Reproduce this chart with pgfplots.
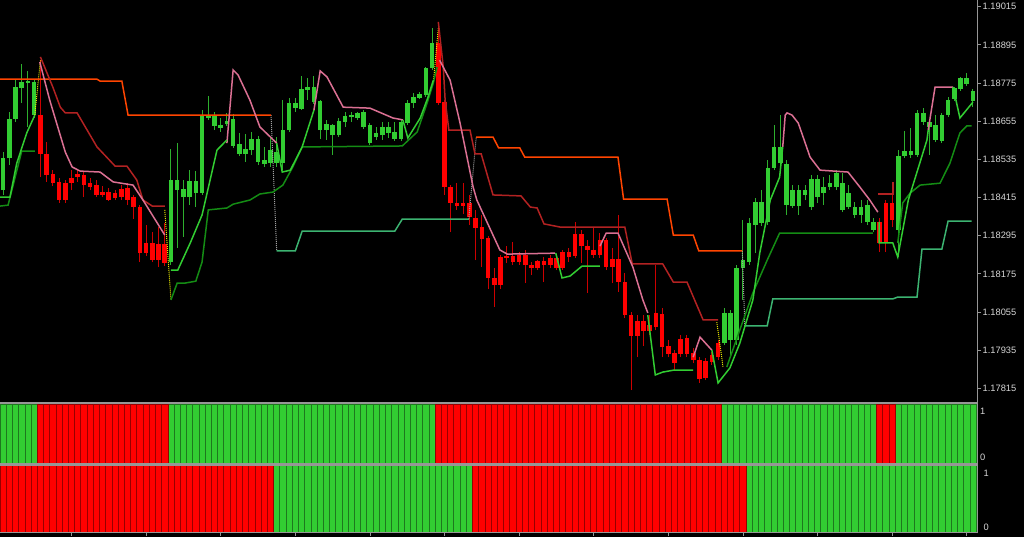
\documentclass[border=0pt]{standalone}
\usepackage{pgfplots}
\pgfplotsset{compat=1.18}
\usepackage{pgfplotstable}
\usepackage{fontspec}
\setmainfont{Liberation Sans}
\definecolor{cgreen}{RGB}{50,205,50}
\definecolor{cred}{RGB}{255,0,0}
\definecolor{gwick}{RGB}{45,175,45}
\definecolor{rwick}{RGB}{205,0,0}
\definecolor{lorange}{RGB}{255,69,0}
\definecolor{ldred}{RGB}{178,34,34}
\definecolor{lpink}{RGB}{219,112,147}
\definecolor{llgreen}{RGB}{50,205,50}
\definecolor{ldgreen}{RGB}{20,140,20}
\definecolor{lsea}{RGB}{60,179,113}
\definecolor{axgray}{RGB}{150,150,150}
\definecolor{lbl}{RGB}{215,215,215}
\definecolor{bgreen}{RGB}{50,205,50}
\definecolor{bgreendark}{RGB}{30,120,30}
\definecolor{bred}{RGB}{255,0,0}
\definecolor{breddark}{RGB}{150,0,0}
\definecolor{dotgray}{RGB}{160,160,160}
\definecolor{dotyel}{RGB}{230,230,0}
\newcommand{\lblfont}{\fontsize{9.3}{10}\selectfont}

\pgfplotstableread{
i O H L C
0 1.18438 1.18558 1.18423 1.18539
1 1.18539 1.18684 1.18517 1.18662
2 1.18662 1.18784 1.18652 1.18762
3 1.18759 1.18835 1.18712 1.18778
4 1.18775 1.18813 1.18637 1.18781
5 1.18674 1.18784 1.18665 1.18778
27 1.18212 1.18567 1.18203 1.18470
28 1.18438 1.18586 1.18256 1.18470
29 1.18416 1.18470 1.18291 1.18442
30 1.18416 1.18501 1.18391 1.18467
31 1.18429 1.18498 1.18385 1.18467
32 1.18429 1.18690 1.18423 1.18674
33 1.18665 1.18734 1.18659 1.18674
34 1.18640 1.18684 1.18627 1.18674
35 1.18633 1.18665 1.18621 1.18643
36 1.18646 1.18681 1.18640 1.18655
37 1.18577 1.18677 1.18571 1.18662
38 1.18552 1.18618 1.18545 1.18583
39 1.18552 1.18615 1.18527 1.18567
40 1.18564 1.18621 1.18549 1.18599
41 1.18527 1.18608 1.18517 1.18599
42 1.18520 1.18574 1.18511 1.18533
43 1.18523 1.18605 1.18511 1.18564
44 1.18523 1.18605 1.18511 1.18558
45 1.18523 1.18721 1.18501 1.18627
46 1.18627 1.18728 1.18621 1.18712
47 1.18696 1.18728 1.18684 1.18712
48 1.18693 1.18797 1.18690 1.18756
49 1.18753 1.18791 1.18721 1.18762
50 1.18715 1.18797 1.18709 1.18762
51 1.18627 1.18721 1.18599 1.18718
52 1.18627 1.18659 1.18596 1.18646
53 1.18611 1.18646 1.18549 1.18643
54 1.18611 1.18665 1.18605 1.18655
55 1.18652 1.18684 1.18637 1.18671
56 1.18668 1.18684 1.18652 1.18674
57 1.18665 1.18684 1.18659 1.18681
58 1.18637 1.18690 1.18630 1.18684
59 1.18586 1.18649 1.18580 1.18643
60 1.18605 1.18637 1.18596 1.18618
61 1.18611 1.18652 1.18596 1.18637
62 1.18618 1.18652 1.18602 1.18637
63 1.18599 1.18652 1.18593 1.18621
64 1.18599 1.18659 1.18593 1.18652
65 1.18649 1.18721 1.18643 1.18712
66 1.18712 1.18743 1.18696 1.18731
67 1.18728 1.18747 1.18725 1.18740
68 1.18737 1.18825 1.18731 1.18822
69 1.18822 1.18948 1.18816 1.18901
116 1.17957 1.18067 1.17951 1.18052
117 1.17967 1.18061 1.17920 1.18052
118 1.17967 1.18203 1.17951 1.18193
119 1.18193 1.18344 1.18093 1.18218
120 1.18212 1.18350 1.18203 1.18335
121 1.18328 1.18413 1.18240 1.18401
122 1.18335 1.18438 1.18325 1.18401
123 1.18338 1.18533 1.18328 1.18508
124 1.18508 1.18643 1.18501 1.18574
125 1.18523 1.18674 1.18517 1.18574
126 1.18391 1.18533 1.18360 1.18520
127 1.18388 1.18454 1.18382 1.18438
128 1.18388 1.18454 1.18360 1.18438
129 1.18423 1.18454 1.18407 1.18438
130 1.18385 1.18486 1.18376 1.18473
131 1.18416 1.18486 1.18398 1.18473
132 1.18429 1.18479 1.18391 1.18448
133 1.18448 1.18486 1.18438 1.18460
134 1.18448 1.18501 1.18438 1.18492
135 1.18376 1.18492 1.18369 1.18460
136 1.18385 1.18454 1.18379 1.18429
137 1.18360 1.18401 1.18350 1.18385
138 1.18360 1.18407 1.18335 1.18385
139 1.18338 1.18407 1.18328 1.18391
140 1.18313 1.18350 1.18306 1.18338
144 1.18313 1.18564 1.18228 1.18545
145 1.18545 1.18624 1.18539 1.18561
146 1.18549 1.18633 1.18539 1.18561
147 1.18549 1.18690 1.18542 1.18681
148 1.18652 1.18696 1.18643 1.18681
149 1.18637 1.18659 1.18549 1.18652
150 1.18596 1.18674 1.18589 1.18643
151 1.18593 1.18681 1.18586 1.18674
152 1.18674 1.18731 1.18668 1.18721
153 1.18725 1.18762 1.18718 1.18759
154 1.18756 1.18794 1.18750 1.18791
155 1.18772 1.18806 1.18765 1.18791
156 1.18718 1.18756 1.18699 1.18750
}\greenc

\pgfplotstableread{
i O H L C
6 1.18674 1.18847 1.18479 1.18552
7 1.18552 1.18589 1.18464 1.18486
8 1.18489 1.18501 1.18451 1.18460
9 1.18464 1.18476 1.18398 1.18407
10 1.18460 1.18470 1.18398 1.18407
11 1.18476 1.18501 1.18438 1.18460
12 1.18489 1.18501 1.18464 1.18479
13 1.18486 1.18495 1.18416 1.18454
14 1.18460 1.18476 1.18438 1.18448
15 1.18454 1.18470 1.18416 1.18423
16 1.18432 1.18451 1.18416 1.18423
17 1.18432 1.18445 1.18404 1.18407
18 1.18429 1.18438 1.18407 1.18413
19 1.18442 1.18454 1.18407 1.18416
20 1.18445 1.18460 1.18391 1.18407
21 1.18416 1.18423 1.18347 1.18385
22 1.18385 1.18391 1.18212 1.18240
23 1.18272 1.18328 1.18231 1.18240
24 1.18272 1.18306 1.18212 1.18218
25 1.18269 1.18322 1.18196 1.18218
26 1.18269 1.18335 1.18199 1.18209
70 1.18901 1.18967 1.18706 1.18712
71 1.18715 1.18721 1.18423 1.18448
72 1.18448 1.18454 1.18306 1.18398
73 1.18398 1.18460 1.18376 1.18388
74 1.18398 1.18460 1.18363 1.18388
75 1.18398 1.18423 1.18328 1.18354
76 1.18350 1.18376 1.18218 1.18319
77 1.18322 1.18360 1.18196 1.18284
78 1.18288 1.18294 1.18127 1.18162
79 1.18162 1.18193 1.18071 1.18140
80 1.18228 1.18234 1.18127 1.18140
81 1.18231 1.18262 1.18209 1.18225
82 1.18231 1.18275 1.18203 1.18212
83 1.18234 1.18243 1.18203 1.18212
84 1.18234 1.18250 1.18146 1.18203
85 1.18203 1.18212 1.18171 1.18193
86 1.18215 1.18218 1.18187 1.18193
87 1.18215 1.18228 1.18149 1.18203
88 1.18225 1.18234 1.18193 1.18203
89 1.18225 1.18234 1.18187 1.18193
90 1.18243 1.18250 1.18187 1.18193
91 1.18243 1.18256 1.18212 1.18228
92 1.18300 1.18338 1.18225 1.18231
93 1.18300 1.18313 1.18209 1.18262
94 1.18262 1.18281 1.18115 1.18250
95 1.18250 1.18319 1.18225 1.18234
96 1.18281 1.18303 1.18225 1.18234
97 1.18281 1.18288 1.18187 1.18196
98 1.18221 1.18256 1.18146 1.18196
99 1.18221 1.18360 1.18118 1.18149
100 1.18149 1.18177 1.18036 1.18045
101 1.18045 1.18055 1.17809 1.17979
102 1.18026 1.18045 1.17913 1.17979
103 1.18026 1.18045 1.17948 1.17995
104 1.18014 1.18045 1.17982 1.17995
105 1.18052 1.18203 1.17998 1.18008
106 1.18049 1.18067 1.17913 1.17945
107 1.17948 1.17967 1.17913 1.17923
108 1.17926 1.17935 1.17872 1.17894
109 1.17970 1.17982 1.17913 1.17923
110 1.17973 1.17982 1.17913 1.17923
111 1.17926 1.17942 1.17894 1.17904
112 1.17904 1.17913 1.17832 1.17844
113 1.17901 1.17910 1.17841 1.17847
114 1.17920 1.17929 1.17888 1.17898
115 1.17957 1.17967 1.17904 1.17913
141 1.18338 1.18350 1.18243 1.18272
142 1.18398 1.18407 1.18243 1.18272
143 1.18398 1.18460 1.18322 1.18344
}\redc

\pgfplotstableread[row sep=\\]{
i v s2 s3\\
0 1 1 0\\1 1 1 0\\2 1 1 0\\3 1 1 0\\4 1 1 0\\5 1 1 0\\
6 1 0 0\\7 1 0 0\\8 1 0 0\\9 1 0 0\\10 1 0 0\\11 1 0 0\\12 1 0 0\\13 1 0 0\\14 1 0 0\\15 1 0 0\\16 1 0 0\\
17 1 0 0\\18 1 0 0\\19 1 0 0\\20 1 0 0\\21 1 0 0\\22 1 0 0\\23 1 0 0\\24 1 0 0\\25 1 0 0\\26 1 0 0\\
27 1 1 0\\28 1 1 0\\29 1 1 0\\30 1 1 0\\31 1 1 0\\32 1 1 0\\33 1 1 0\\34 1 1 0\\35 1 1 0\\36 1 1 0\\
37 1 1 0\\38 1 1 0\\39 1 1 0\\40 1 1 0\\41 1 1 0\\42 1 1 0\\43 1 1 0\\
44 1 1 1\\45 1 1 1\\46 1 1 1\\47 1 1 1\\48 1 1 1\\49 1 1 1\\50 1 1 1\\51 1 1 1\\52 1 1 1\\53 1 1 1\\
54 1 1 1\\55 1 1 1\\56 1 1 1\\57 1 1 1\\58 1 1 1\\59 1 1 1\\60 1 1 1\\61 1 1 1\\62 1 1 1\\63 1 1 1\\
64 1 1 1\\65 1 1 1\\66 1 1 1\\67 1 1 1\\68 1 1 1\\69 1 1 1\\
70 1 0 1\\71 1 0 1\\72 1 0 1\\73 1 0 1\\74 1 0 1\\75 1 0 1\\
76 1 0 0\\77 1 0 0\\78 1 0 0\\79 1 0 0\\80 1 0 0\\81 1 0 0\\82 1 0 0\\83 1 0 0\\84 1 0 0\\85 1 0 0\\
86 1 0 0\\87 1 0 0\\88 1 0 0\\89 1 0 0\\90 1 0 0\\91 1 0 0\\92 1 0 0\\93 1 0 0\\94 1 0 0\\95 1 0 0\\
96 1 0 0\\97 1 0 0\\98 1 0 0\\99 1 0 0\\100 1 0 0\\101 1 0 0\\102 1 0 0\\103 1 0 0\\104 1 0 0\\105 1 0 0\\
106 1 0 0\\107 1 0 0\\108 1 0 0\\109 1 0 0\\110 1 0 0\\111 1 0 0\\112 1 0 0\\113 1 0 0\\114 1 0 0\\115 1 0 0\\
116 1 1 0\\117 1 1 0\\118 1 1 0\\119 1 1 0\\
120 1 1 1\\121 1 1 1\\122 1 1 1\\123 1 1 1\\124 1 1 1\\125 1 1 1\\126 1 1 1\\127 1 1 1\\128 1 1 1\\129 1 1 1\\
130 1 1 1\\131 1 1 1\\132 1 1 1\\133 1 1 1\\134 1 1 1\\135 1 1 1\\136 1 1 1\\137 1 1 1\\138 1 1 1\\139 1 1 1\\140 1 1 1\\
141 1 0 1\\142 1 0 1\\143 1 0 1\\
144 1 1 1\\145 1 1 1\\146 1 1 1\\147 1 1 1\\148 1 1 1\\149 1 1 1\\150 1 1 1\\151 1 1 1\\152 1 1 1\\153 1 1 1\\
154 1 1 1\\155 1 1 1\\156 1 1 1\\
}\sig

\pgfplotsset{
  panelstyle/.style={scale only axis, width=977pt, xmin=-0.5, xmax=156.65, ymin=0, ymax=1,
    axis line style={draw=none}, ytick pos=right, yticklabel pos=right,
    yticklabels={0,1}, ytick style={draw=none},
    yticklabel style={anchor=west, inner sep=0pt, text=lbl, font=\lblfont},
    clip=true},
  sigbar/.style={ybar, bar width=1, bar shift=0pt, line width=0.7pt},
}

\begin{document}
\begin{tikzpicture}[x=1pt,y=1pt]
\fill[black] (0,0) rectangle (1024,537);

% ---------------- main price panel ----------------
\begin{axis}[
  at={(0pt,135pt)}, anchor=south west, scale only axis,
  width=977pt, height=402pt,
  xmin=-0.5, xmax=156.65, ymin=1.17772, ymax=1.19036,
  axis line style={draw=none}, xtick=\empty, scaled y ticks=false,
  ytick={1.17815,1.17935,1.18055,1.18175,1.18295,1.18415,1.18535,1.18655,1.18775,1.18895,1.19015},
  yticklabels={1.17815,1.17935,1.18055,1.18175,1.18295,1.18415,1.18535,1.18655,1.18775,1.18895,1.19015},
  ytick pos=right, yticklabel pos=right, tick align=outside, major tick length=4pt,
  ytick style={draw=axgray, line width=0.8pt},
  yticklabel style={anchor=west, inner sep=0pt, xshift=1.5pt, text=lbl, font=\lblfont},
]
% candles
\addplot[gwick, line width=1pt, quiver={u=0, v=\thisrow{H}-\thisrow{L}}] table[x=i, y=L] {\greenc};
\addplot[cgreen, line width=4.6pt, line cap=butt, quiver={u=0, v=\thisrow{C}-\thisrow{O}}] table[x=i, y=O] {\greenc};
\addplot[rwick, line width=1pt, quiver={u=0, v=\thisrow{H}-\thisrow{L}}] table[x=i, y=L] {\redc};
\addplot[cred, line width=4.6pt, line cap=butt, quiver={u=0, v=\thisrow{C}-\thisrow{O}}] table[x=i, y=O] {\redc};

% transition dotted lines
\addplot[dotgray, line width=1pt, densely dotted] coordinates {(43.1,1.18674)(44.0,1.18247)};
\addplot[dotgray, line width=1pt, densely dotted] coordinates {(74.9,1.18347)(76.1,1.18605)};
\addplot[dotgray, line width=1pt, densely dotted] coordinates {(118.9,1.18247)(119.3,1.18011)};
\addplot[dotyel, line width=1pt, densely dotted] coordinates {(5.1,1.18674)(6.0,1.18847)};
\addplot[dotyel, line width=1pt, densely dotted] coordinates {(26.0,1.18376)(27.0,1.18093)};
\addplot[dotyel, line width=1pt, densely dotted] coordinates {(69.2,1.18775)(70.0,1.18948)};
\addplot[dotyel, line width=1pt, densely dotted] coordinates {(114.8,1.18023)(115.8,1.17882)};

% slow stop (orange / sea green)
\addplot[lorange, line width=1.5pt] coordinates {(-0.5,1.18787)(15.1,1.18787)(15.6,1.18781)(19.1,1.18781)(20.1,1.18674)(43.1,1.18674)};
\addplot[lorange, line width=1.5pt] coordinates {(76.1,1.18605)(78.8,1.18605)(79.7,1.18571)(83.1,1.18571)(83.9,1.18542)(98.9,1.18542)(99.8,1.18410)(106.8,1.18410)(107.8,1.18297)(111.0,1.18297)(111.9,1.18247)(118.9,1.18247)};
\addplot[lsea, line width=1.5pt] coordinates {(44.0,1.18247)(47.0,1.18247)(48.1,1.18309)(63.0,1.18309)(64.2,1.18347)(74.9,1.18347)};
\addplot[lsea, line width=1.5pt] coordinates {(119.3,1.18011)(122.9,1.18011)(123.8,1.18096)(143.1,1.18096)(143.9,1.18102)(147.0,1.18102)(147.8,1.18253)(151.0,1.18253)(152.0,1.18341)(155.8,1.18341)};

% medium stop (dark red / dark green)
\addplot[ldred, line width=1.5pt] coordinates {(6.0,1.18857)(8.0,1.18762)(9.2,1.18699)(10.0,1.18681)(11.9,1.18681)(15.1,1.18574)(18.0,1.18514)(19.9,1.18514)(21.5,1.18470)(22.5,1.18407)(24.0,1.18388)(26.0,1.18388)};
\addplot[ldred, line width=1.5pt] coordinates {(70.0,1.18967)(70.8,1.18825)(71.1,1.18721)(71.7,1.18627)(75.1,1.18627)(75.9,1.18552)(76.9,1.18552)(78.8,1.18423)(83.3,1.18420)(84.8,1.18385)(85.9,1.18382)(87.0,1.18332)(89.6,1.18322)(100.0,1.18322)(101.2,1.18206)(106.1,1.18206)(107.8,1.18149)(110.0,1.18149)(112.6,1.18030)(115.0,1.18030)};
\addplot[ldred, line width=1.5pt] coordinates {(140.7,1.18426)(143.1,1.18426)(143.1,1.18464)};
\addplot[ldgreen, line width=1.5pt] coordinates {(-0.5,1.18388)(0.8,1.18391)(3.0,1.18561)(5.1,1.18561)};
\addplot[ldgreen, line width=1.5pt] coordinates {(27.0,1.18093)(28.0,1.18146)(29.3,1.18146)(31.0,1.18152)(32.0,1.18212)(33.0,1.18376)(36.0,1.18382)(37.0,1.18394)(39.7,1.18407)(41.3,1.18426)(43.4,1.18432)(45.0,1.18454)(46.6,1.18511)(48.1,1.18574)(64.2,1.18577)(66.6,1.18621)(68.2,1.18712)(69.2,1.18775)(69.8,1.18825)};
\addplot[ldgreen, line width=1.5pt] coordinates {(116.4,1.17882)(120.6,1.18115)(122.9,1.18218)(124.9,1.18303)(139.9,1.18303)};
\addplot[ldgreen, line width=1.5pt] coordinates {(143.9,1.18272)(144.7,1.18398)(145.9,1.18429)(147.5,1.18454)(150.7,1.18460)(152.3,1.18523)(153.9,1.18618)(155.0,1.18640)(155.8,1.18640)};

% fast stop (pink / light green)
\addplot[lpink, line width=1.5pt] coordinates {(5.9,1.18841)(7.5,1.18721)(10.0,1.18558)(11.1,1.18511)(12.4,1.18498)(15.6,1.18495)(17.7,1.18464)(20.9,1.18454)(22.5,1.18407)(26.0,1.18297)};
\addplot[lpink, line width=1.5pt] coordinates {(36.0,1.18586)(37.0,1.18816)(37.8,1.18800)(39.7,1.18721)(41.3,1.18637)(44.0,1.18586)};
\addplot[lpink, line width=1.5pt] coordinates {(50.0,1.18690)(51.0,1.18813)(52.1,1.18794)(54.7,1.18699)(59.0,1.18696)(62.7,1.18665)(64.3,1.18659)};
\addplot[lpink, line width=1.5pt] coordinates {(70.2,1.18847)(71.9,1.18784)(73.5,1.18649)(75.6,1.18448)(76.2,1.18407)(79.9,1.18250)(81.1,1.18237)(88.8,1.18240)};
\addplot[lpink, line width=1.5pt] coordinates {(96.0,1.18262)(97.0,1.18303)(98.9,1.18303)(101.3,1.18196)(102.9,1.18093)(103.7,1.18052)};
\addplot[lpink, line width=1.5pt] coordinates {(111.0,1.17913)(112.1,1.17976)(114.0,1.17935)};
\addplot[lpink, line width=1.5pt] coordinates {(125.4,1.18574)(125.8,1.18674)(126.1,1.18681)(126.9,1.18674)(127.9,1.18649)(129.8,1.18542)(131.4,1.18501)(135.9,1.18495)(137.8,1.18448)(139.4,1.18407)(140.7,1.18369)};
\addplot[lpink, line width=1.5pt] coordinates {(148.8,1.18627)(149.9,1.18762)(152.8,1.18762)};
\addplot[llgreen, line width=1.5pt] coordinates {(-0.5,1.18416)(1.1,1.18416)(2.2,1.18523)(3.8,1.18618)(5.1,1.18674)};
\addplot[llgreen, line width=1.5pt] coordinates {(27.0,1.18187)(28.1,1.18187)(30.1,1.18272)(32.0,1.18360)(34.4,1.18564)(36.0,1.18596)};
\addplot[llgreen, line width=1.5pt] coordinates {(44.0,1.18586)(44.9,1.18495)(46.2,1.18501)(48.1,1.18574)(50.0,1.18690)};
\addplot[llgreen, line width=1.5pt] coordinates {(64.3,1.18659)(65.1,1.18602)(67.1,1.18665)(68.3,1.18728)(69.2,1.18784)};
\addplot[llgreen, line width=1.5pt] coordinates {(88.9,1.18240)(89.9,1.18162)(91.2,1.18168)(93.1,1.18199)(96.0,1.18199)};
\addplot[llgreen, line width=1.5pt] coordinates {(103.7,1.18045)(104.9,1.17857)(106.1,1.17866)(107.8,1.17872)(111.0,1.17872)};
\addplot[llgreen, line width=1.5pt] coordinates {(114.0,1.17935)(115.0,1.17832)(116.9,1.17879)(118.5,1.17957)(120.6,1.18093)(121.7,1.18240)(123.4,1.18407)(124.9,1.18479)(125.4,1.18574)};
\addplot[llgreen, line width=1.5pt] coordinates {(140.9,1.18338)(140.9,1.18272)(143.1,1.18272)(143.9,1.18228)(145.6,1.18407)(148.6,1.18596)(148.8,1.18627)};
\addplot[llgreen, line width=1.5pt] coordinates {(152.8,1.18762)(153.9,1.18665)(156.0,1.18715)};
\end{axis}

% ---------------- signal panel 1 ----------------
\begin{axis}[panelstyle, at={(0pt,73pt)}, anchor=south west, height=60pt,
  xtick=\empty, ytick={0.11,0.87}, yticklabel style={xshift=3pt}]
\addplot[sigbar, fill=bgreen, draw=bgreendark, restrict expr to domain={\thisrow{s2}}{0.5:1.5}] table[x=i, y=v] {\sig};
\addplot[sigbar, fill=bred, draw=breddark, restrict expr to domain={\thisrow{s2}}{-0.5:0.5}] table[x=i, y=v] {\sig};
\end{axis}

% ---------------- signal panel 2 ----------------
\begin{axis}[panelstyle, at={(0pt,4.5pt)}, anchor=south west, height=67.5pt,
  xtick={11,23,35,47,59,71,83,95,107,119,131,143,155}, xticklabels={},
  xtick pos=bottom, tick align=outside, major tick length=3.5pt,
  xtick style={draw=axgray, line width=0.8pt},
  ytick={0.08,0.874}, yticklabel style={xshift=3pt}]
\addplot[sigbar, fill=bgreen, draw=bgreendark, restrict expr to domain={\thisrow{s3}}{0.5:1.5}] table[x=i, y=v] {\sig};
\addplot[sigbar, fill=bred, draw=breddark, restrict expr to domain={\thisrow{s3}}{-0.5:0.5}] table[x=i, y=v] {\sig};
\end{axis}

% panel frames
\draw[axgray, line width=1.8pt] (0,133.8) -- (977.6,133.8);
\draw[axgray, line width=2.2pt] (0,72.5) -- (977.6,72.5);
\draw[axgray, line width=1.6pt] (0,4.5) -- (977.6,4.5);
\draw[axgray, line width=1.3pt] (977.3,3.7) -- (977.3,537);

\pgfresetboundingbox
\useasboundingbox (0,0) rectangle (1024,537);
\end{tikzpicture}
\end{document}
